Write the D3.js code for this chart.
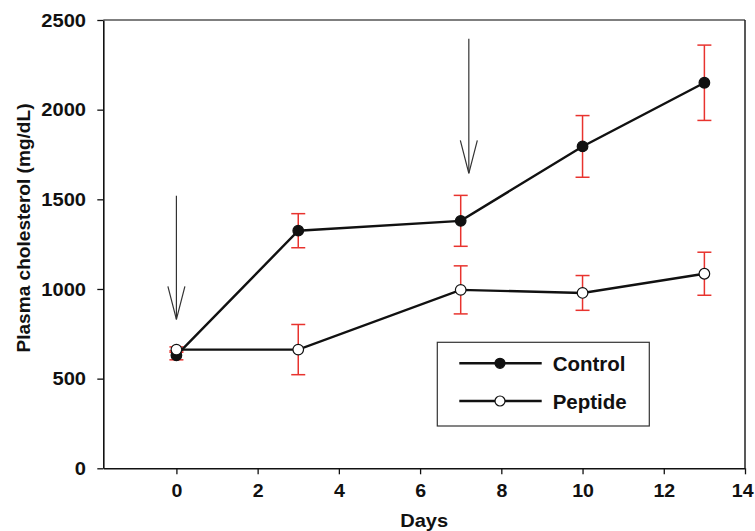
<!DOCTYPE html>
<html>
<head>
<meta charset="utf-8">
<script src="https://cdn.jsdelivr.net/npm/d3@7"></script>
<style>
  html, body { margin: 0; padding: 0; background: #fff; }
  svg { display: block; font-family: "Liberation Sans", Arial, Helvetica, sans-serif; font-weight: bold; }
</style>
</head>
<body>
<svg id="chart" width="755" height="531"></svg>
<script>
// ---- Data ----
const days = [0, 3, 7, 10, 13];
const controlValues = [630, 1325, 1380, 1795, 2150];
const controlErrors = [25, 95, 142, 172, 210];
const peptideValues = [662, 662, 995, 978, 1085];
const peptideErrors = [15, 140, 134, 97, 120];
const xTicks = [0, 2, 4, 6, 8, 10, 12, 14];
const yTicks = [0, 500, 1000, 1500, 2000, 2500];
const arrowDays = [0, 7.2];
const arrowFrom = [1520, 2395];
const arrowTo = [830, 1645];
const seriesNames = ["Control", "Peptide"];

// ---- Layout ----
const plotL = 103.3, plotR = 745, plotT = 20, plotB = 468.3;
const svg = d3.select("#chart");

const x = d3.scaleLinear().domain([-1.8, 14]).range([plotL, plotR]);
const y = d3.scaleLinear().domain([0, 2500]).range([plotB, plotT]);

const series = [
  { name: seriesNames[0], values: controlValues, errors: controlErrors, fill: "#111" },
  { name: seriesNames[1], values: peptideValues, errors: peptideErrors, fill: "#fff" }
];

// frame top/right
svg.append("line").attr("x1", plotL).attr("x2", plotR).attr("y1", plotT).attr("y2", plotT)
  .attr("stroke", "#555").attr("stroke-width", 1.5);
svg.append("line").attr("x1", plotR).attr("x2", plotR).attr("y1", plotT).attr("y2", plotB)
  .attr("stroke", "#222").attr("stroke-width", 1.5);

// axes
const xAxis = svg.append("g").attr("transform", `translate(0,${plotB})`)
  .call(d3.axisBottom(x).tickValues(xTicks).tickFormat(d3.format("d"))
    .tickSize(6).tickSizeOuter(0).tickPadding(10));
const yAxis = svg.append("g").attr("transform", `translate(${plotL},0)`)
  .call(d3.axisLeft(y).tickValues(yTicks).tickFormat(d3.format("d"))
    .tickSize(6).tickSizeOuter(0).tickPadding(9));

[xAxis, yAxis].forEach(a => {
  a.select(".domain").attr("stroke", "#111").attr("stroke-width", 1.6);
  a.selectAll(".tick line").attr("stroke", "#111").attr("stroke-width", 1.3);
  a.selectAll(".tick text").attr("fill", "#111")
    .style("font-family", "'Liberation Sans', Arial, sans-serif")
    .style("font-weight", "bold").style("font-size", "17.5px");
});
xAxis.selectAll(".tick text").attr("transform", "scale(1.12,1)")
  .attr("dx", d => d === 14 ? -2.5 : 0);
yAxis.selectAll(".tick text").attr("transform", "scale(1.15,1)").attr("dy", "0.36em");

// axis titles
svg.append("text").attr("x", (plotL + plotR) / 2).attr("y", 527)
  .attr("text-anchor", "middle").attr("font-size", 19).attr("fill", "#111")
  .attr("textLength", 48).attr("lengthAdjust", "spacingAndGlyphs")
  .text("Days");
svg.append("text").attr("transform", "translate(30,228) rotate(-90)")
  .attr("text-anchor", "middle").attr("font-size", 19).attr("fill", "#111")
  .attr("textLength", 249).attr("lengthAdjust", "spacingAndGlyphs")
  .text("Plasma cholesterol (mg/dL)");

// error bars
const red = "#e8332e";
const cap = 7;
series.forEach(s => {
  const g = svg.append("g").attr("stroke", red).attr("stroke-width", 1.5);
  days.forEach((d, i) => {
    const cx = x(d), hi = y(s.values[i] + s.errors[i]), lo = y(s.values[i] - s.errors[i]);
    g.append("line").attr("x1", cx).attr("x2", cx).attr("y1", hi).attr("y2", lo);
    g.append("line").attr("x1", cx - cap).attr("x2", cx + cap).attr("y1", hi).attr("y2", hi);
    g.append("line").attr("x1", cx - cap).attr("x2", cx + cap).attr("y1", lo).attr("y2", lo);
  });
});

// lines
const line = d3.line().x((d, i) => x(days[i])).y(d => y(d));
series.forEach(s => {
  svg.append("path").datum(s.values).attr("d", line)
    .attr("fill", "none").attr("stroke", "#111").attr("stroke-width", 2.4);
});
// markers
series.forEach(s => {
  svg.append("g").selectAll("circle").data(s.values).join("circle")
    .attr("cx", (d, i) => x(days[i])).attr("cy", d => y(d))
    .attr("r", 5.3).attr("fill", s.fill).attr("stroke", "#111").attr("stroke-width", 1.2);
});

// arrows
arrowDays.forEach((d, i) => {
  const ax = x(d), y1 = y(arrowFrom[i]), y2 = y(arrowTo[i]);
  const g = svg.append("g").attr("stroke", "#333").attr("stroke-width", 1.2).attr("fill", "none");
  g.append("line").attr("x1", ax).attr("x2", ax).attr("y1", y1).attr("y2", y2);
  g.append("path").attr("d", `M${ax - 8.5},${y2 - 33} L${ax},${y2} L${ax + 8.5},${y2 - 33}`);
});

// legend
const lg = svg.append("g");
lg.append("rect").attr("x", 437.3).attr("y", 342.3).attr("width", 212).attr("height", 83.7)
  .attr("fill", "#fff").attr("stroke", "#333").attr("stroke-width", 1.2);
const legendRows = [363.3, 401];
series.forEach((s, i) => {
  const ly = legendRows[i];
  lg.append("line").attr("x1", 459.3).attr("x2", 541.7).attr("y1", ly).attr("y2", ly)
    .attr("stroke", "#111").attr("stroke-width", 2.4);
  lg.append("circle").attr("cx", 500).attr("cy", ly).attr("r", 5)
    .attr("fill", s.fill).attr("stroke", "#111").attr("stroke-width", 1.2);
  lg.append("text").attr("x", 552.7).attr("y", ly + 8)
    .attr("font-size", 20.5).attr("fill", "#111").text(s.name);
});
</script>
</body>
</html>
